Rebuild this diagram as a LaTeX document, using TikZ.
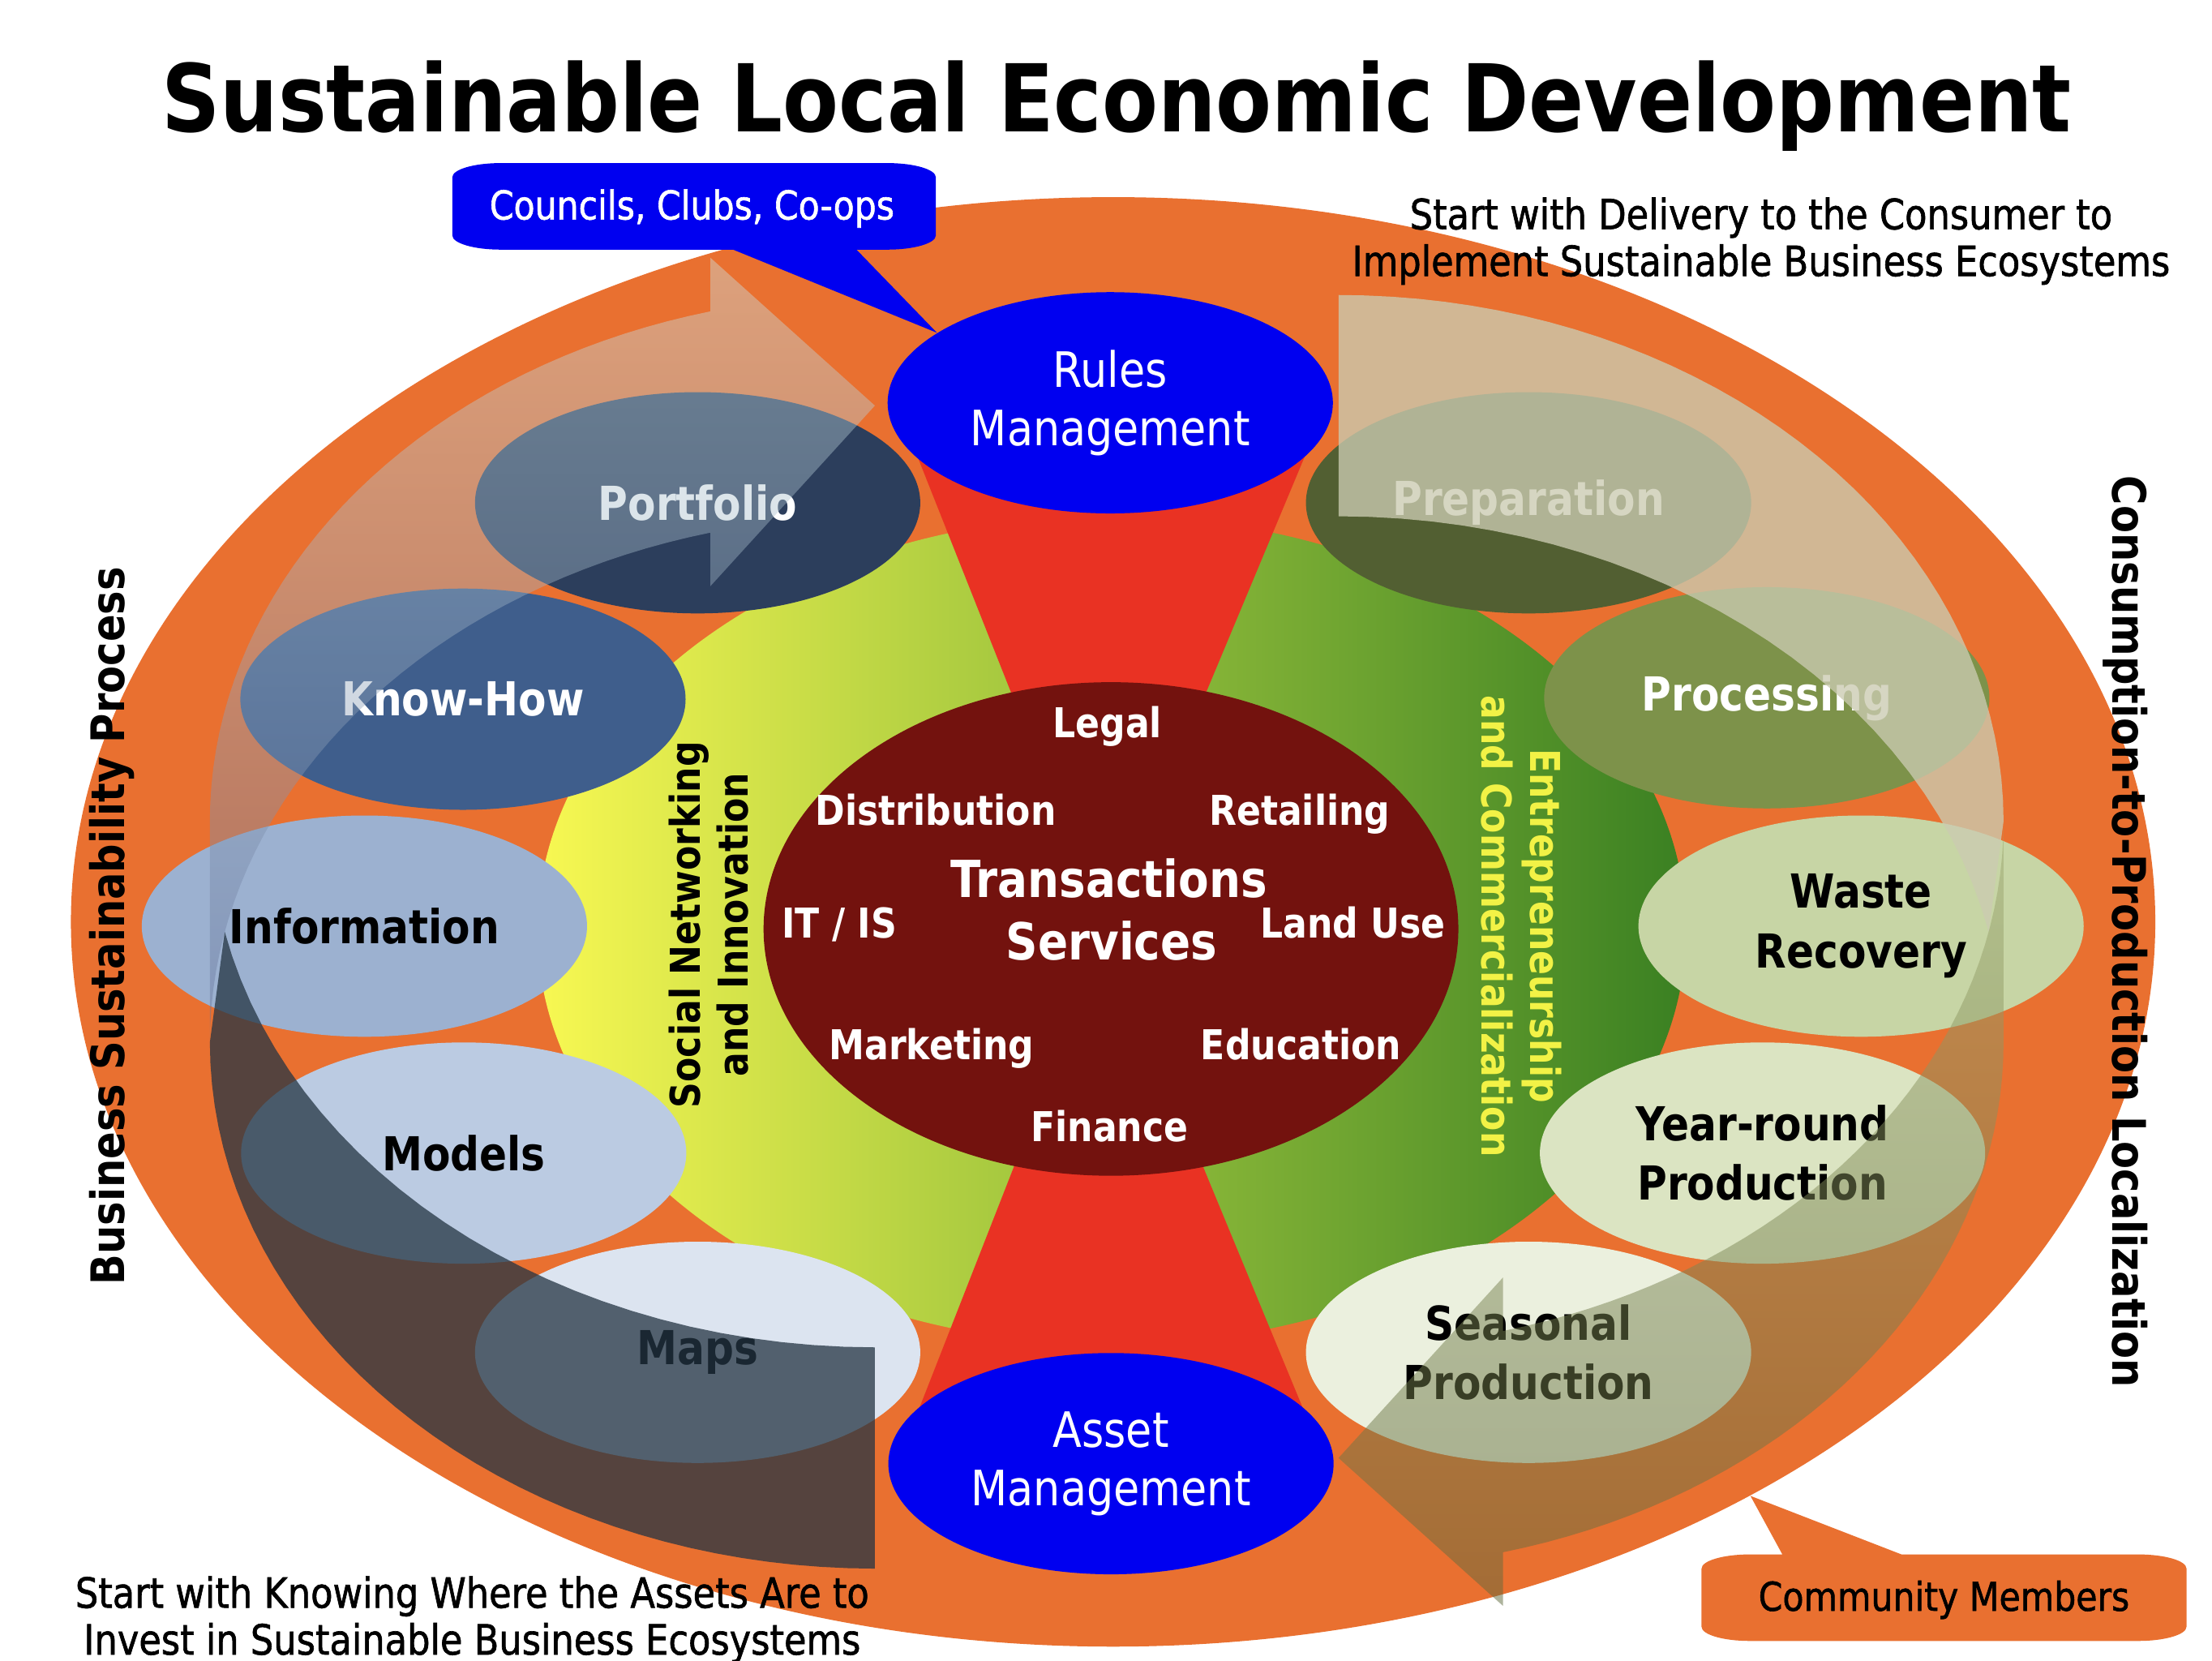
\documentclass[tikz,border=0pt]{standalone}
\usepackage{fontspec}
\setmainfont{DejaVu Sans}[FakeStretch=0.87]
\newfontfamily\notefont{DejaVu Sans}[FakeStretch=0.87, FakeBold=1.2]
\usetikzlibrary{shapes.geometric}

\definecolor{bandorange}{RGB}{233,112,48}
\definecolor{ringyellow}{RGB}{248,248,82}
\definecolor{ringmid}{RGB}{148,190,59}
\definecolor{ringgreen}{RGB}{58,128,34}
\definecolor{funnelred}{RGB}{233,50,35}
\definecolor{coremaroon}{RGB}{115,18,14}
\definecolor{hubblue}{RGB}{0,0,240}
\definecolor{labelyellow}{RGB}{242,242,70}
\definecolor{portfoliofill}{RGB}{44,62,92}
\definecolor{knowhowfill}{RGB}{63,94,140}
\definecolor{informationfill}{RGB}{156,177,208}
\definecolor{modelsfill}{RGB}{187,203,226}
\definecolor{mapsfill}{RGB}{220,228,240}
\definecolor{preparationfill}{RGB}{82,95,50}
\definecolor{processingfill}{RGB}{125,146,74}
\definecolor{wastefill}{RGB}{199,213,165}
\definecolor{yearroundfill}{RGB}{219,228,194}
\definecolor{seasonalfill}{RGB}{235,240,222}
\definecolor{leftlight}{RGB}{205,230,230}
\definecolor{leftdeep}{RGB}{98,112,152}
\definecolor{leftback}{RGB}{36,53,67}
\definecolor{rightback}{RGB}{203,203,177}
\definecolor{rightlight}{RGB}{160,170,115}
\definecolor{rightdeep}{RGB}{95,106,60}

\tikzset{
  bubble/.style={ellipse, inner sep=0pt, minimum width=157pt, minimum height=78pt,
    align=center, font=\fontsize{16.5}{21}\selectfont\bfseries},
  hub/.style={bubble, fill=hubblue, text=white, font=\fontsize{17.2}{20.5}\selectfont},
  service/.style={anchor=base, text=white, font=\fontsize{14.5}{17}\selectfont\bfseries},
  sidetext/.style={align=center, font=\fontsize{16.3}{19}\selectfont\bfseries},
  ringtext/.style={align=center, font=\fontsize{14.5}{17}\selectfont\bfseries},
  note/.style={align=center, font=\notefont\fontsize{14.7}{16.5}\selectfont}
}

\begin{document}
\begin{tikzpicture}[x=0.5pt, y=-0.5pt]
  \path[use as bounding box, fill=white] (0,0) rectangle (1560,1170.6);

  % Define nodes
  \node[ellipse, inner sep=0pt, fill=bandorange, minimum width=735pt, minimum height=511pt] (band) at (785,650) {};
  \node[ellipse, inner sep=0pt, left color=ringyellow, right color=ringgreen, middle color=ringmid,
    minimum width=405pt, minimum height=292pt] (ring) at (784,656) {};

  % Funnel between the hubs
  \fill[funnelred] (780,657) -- (632,284) -- (936,284) -- cycle;
  \fill[funnelred] (780,657) -- (633,1032) -- (935,1032) -- cycle;

  \node[ellipse, inner sep=0pt, fill=coremaroon, minimum width=245pt, minimum height=174pt] (core) at (783.5,655) {};
  \node[service] (legal) at (781,520) {Legal};
  \node[service] (distribution) at (660,582) {Distribution};
  \node[service] (retailing) at (916.5,582) {Retailing};
  \node[service] (itis) at (592,661.6) {IT / IS};
  \node[service] (landuse) at (954,661.6) {Land Use};
  \node[service] (marketing) at (657,747) {Marketing};
  \node[service] (education) at (917.5,747) {Education};
  \node[service] (finance) at (782.5,804.6) {Finance};
  \node[service, font=\fontsize{18}{22}\selectfont\bfseries] (transactions) at (782,633) {Transactions};
  \node[service, font=\fontsize{18}{22}\selectfont\bfseries] (services) at (784,677) {Services};

  \node[hub] (rules) at (783,284) {Rules\\Management};
  \node[hub] (asset) at (783.5,1032) {Asset\\Management};

  % Callouts
  \fill[hubblue] (353,115) -- (626,115) .. controls (644.8,115) and (660,119.5) .. (660,125)
    -- (660,166) .. controls (660,171.5) and (644.8,176) .. (626,176) -- (604,176)
    -- (rules.158) -- (517,176) -- (353,176) .. controls (334.2,176) and (319,171.5) .. (319,166)
    -- (319,125) .. controls (319,119.5) and (334.2,115) .. (353,115) -- cycle;
  \node[text=white, font=\notefont\fontsize{14}{17}\selectfont] (councils) at (488,147) {Councils, Clubs, Co-ops};

  \fill[bandorange] (1234,1096) -- (1257,1096) -- (band.-42) -- (1341,1096) -- (1508,1096)
    .. controls (1526.8,1096) and (1542,1100.5) .. (1542,1106) -- (1542,1147)
    .. controls (1542,1152.5) and (1526.8,1157) .. (1508,1157) -- (1234,1157)
    .. controls (1215.2,1157) and (1200,1152.5) .. (1200,1147) -- (1200,1106)
    .. controls (1200,1100.5) and (1215.2,1096) .. (1234,1096) -- cycle;
  \node[font=\notefont\fontsize{14}{17}\selectfont] (community) at (1371,1128) {Community Members};

  % Assets side
  \node[bubble, fill=portfoliofill, text=white] (portfolio) at (492,354.5) {Portfolio};
  \node[bubble, fill=knowhowfill, text=white] (knowhow) at (326.5,493) {Know-How};
  \node[bubble, fill=informationfill] (information) at (257,653) {Information};
  \node[bubble, fill=modelsfill] (models) at (327,813) {Models};
  \node[bubble, fill=mapsfill] (maps) at (492,953.5) {Maps};

  % Consumer side
  \node[bubble, fill=preparationfill, text=white] (preparation) at (1078,354.5) {Preparation};
  \node[bubble, fill=processingfill, text=white] (processing) at (1246,492) {Processing};
  \node[bubble, fill=wastefill] (waste) at (1312.5,653) {Waste\\Recovery};
  \node[bubble, fill=yearroundfill] (yearround) at (1243,813) {Year-round\\Production};
  \node[bubble, fill=seasonalfill] (seasonal) at (1078,953.5) {Seasonal\\Production};

  % Business sustainability arrow
  \shade[top color=leftlight, bottom color=leftdeep, fill opacity=0.42]
    (148,735) -- plot[domain=180:255.68, samples=40] ({617+469*cos(\x)},{735+371*sin(\x)})
    -- (501,413.3) -- (617,286) -- (501,181.7)
    -- plot[domain=255.68:180, samples=40] ({617+469*cos(\x)},{579+371*sin(\x)}) -- cycle;
  \fill[leftback, fill opacity=0.75]
    (148,735) -- plot[domain=180:90, samples=40] ({617+469*cos(\x)},{735+371*sin(\x)})
    -- (617,950) -- plot[domain=90:167.86, samples=30] ({617+469*cos(\x)},{579+371*sin(\x)}) -- cycle;

  % Consumption-to-production arrow
  \fill[rightback, fill opacity=0.78]
    (1413,579) -- plot[domain=180:90, samples=40] ({944-469*cos(\x)},{579-371*sin(\x)})
    -- (944,364) -- plot[domain=90:167.86, samples=30] ({944-469*cos(\x)},{735-371*sin(\x)}) -- cycle;
  \shade[top color=rightlight, bottom color=rightdeep, fill opacity=0.5]
    (1413,579) -- plot[domain=180:255.68, samples=40] ({944-469*cos(\x)},{579-371*sin(\x)})
    -- (1060,900.7) -- (944,1028) -- (1060,1132.3)
    -- plot[domain=255.68:180, samples=40] ({944-469*cos(\x)},{735-371*sin(\x)}) -- cycle;

  % Ring labels
  \node[ringtext, rotate=90] (social) at (500,652) {Social Networking\\and Innovation};
  \node[ringtext, rotate=-90, text=labelyellow] (entrepreneurship) at (1073,653) {Entrepreneurship\\and Commercialization};

  % Outer texts
  \node[anchor=base, font=\fontsize{33}{40}\selectfont\bfseries] (title) at (787.5,93) {Sustainable Local Economic Development};
  \node[sidetext, rotate=90] (process) at (79,653) {Business Sustainability Process};
  \node[sidetext, rotate=-90] (localization) at (1499,657) {Consumption-to-Production Localization};
  \node[note] (delivery) at (1242,170) {Start with Delivery to the Consumer to\\Implement Sustainable Business Ecosystems};
  \node[note] (knowing) at (333,1142) {Start with Knowing Where the Assets Are to\\Invest in Sustainable Business Ecosystems};
\end{tikzpicture}
\end{document}
